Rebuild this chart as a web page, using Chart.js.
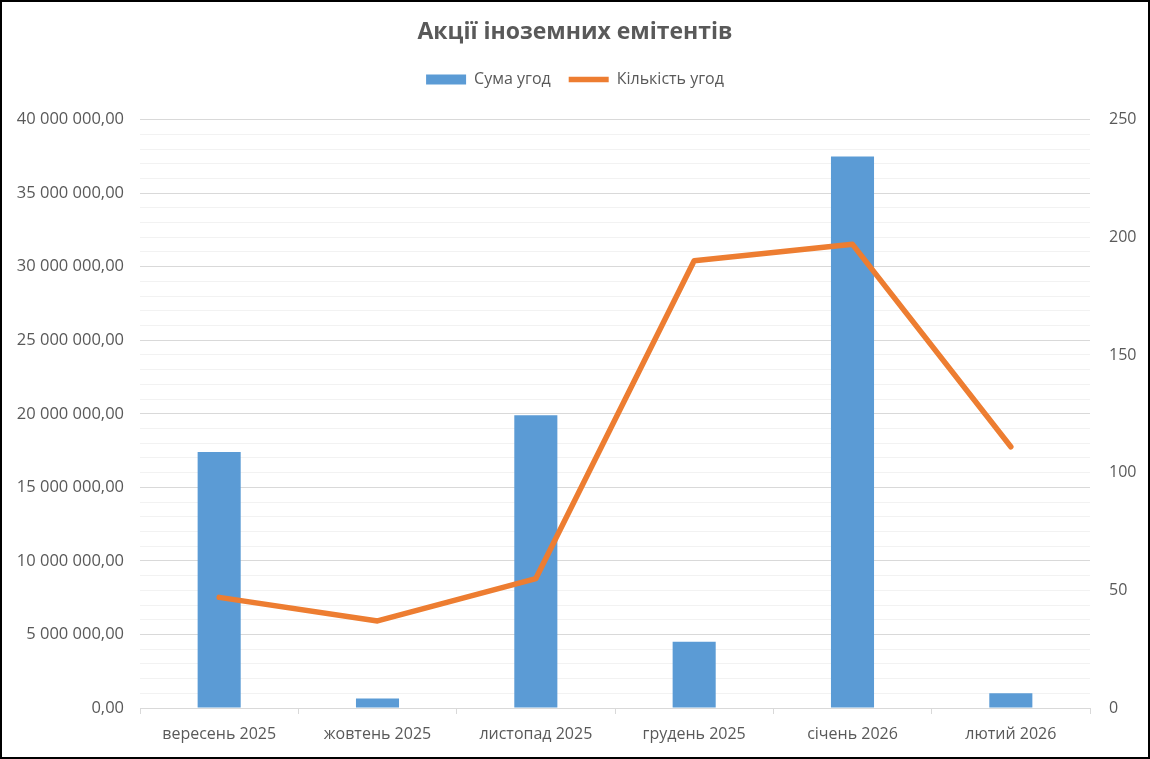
<!DOCTYPE html>
<html>
<head>
<meta charset="utf-8">
<script src="https://cdn.jsdelivr.net/npm/chart.js@4"></script>
<style>
  html, body { margin: 0; padding: 0; background: #fff; }
  #wrap { width: 1150px; height: 759px; box-sizing: border-box; border: 2px solid #000; }
  #chart { display: block; }
</style>
</head>
<body>
<div id="wrap"><canvas id="chart" width="1146" height="755"></canvas></div>
<script>
const months = ["вересень 2025", "жовтень 2025", "листопад 2025", "грудень 2025", "січень 2026", "лютий 2026"];
const dealSum = [17400000, 650000, 19900000, 4500000, 37500000, 1000000];
const dealCount = [47, 37, 55, 190, 197, 111];
const sumTicks = [0, 5000000, 10000000, 15000000, 20000000, 25000000, 30000000, 35000000, 40000000];
const countTicks = [0, 50, 100, 150, 200, 250];

const grey = "#595959";
const font = "'Open Sans', 'DejaVu Sans', sans-serif";

function money(v) {
  return String(v).replace(/\B(?=(\d{3})+(?!\d))/g, " ") + ",00";
}

// extra gap under the legend
const legendGap = {
  id: "legendGap",
  afterInit(chart) {
    const fit = chart.legend.fit;
    chart.legend.fit = function () {
      fit.call(this);
      this.height += 22;
    };
  },
};

const ctx = document.getElementById("chart");

new Chart(ctx, {
  type: "bar",
  data: {
    labels: months,
    datasets: [
      {
        type: "bar",
        label: "Сума угод",
        data: dealSum,
        backgroundColor: "#5B9BD5",
        borderWidth: 0,
        barPercentage: 0.272,
        categoryPercentage: 1,
        yAxisID: "y",
        pointStyle: "rect",
        order: 2,
      },
      {
        type: "line",
        label: "Кількість угод",
        data: dealCount,
        borderColor: "#ED7D31",
        backgroundColor: "#ED7D31",
        borderWidth: 5.5,
        borderCapStyle: "round",
        borderJoinStyle: "round",
        pointRadius: 0,
        pointStyle: "line",
        tension: 0,
        yAxisID: "y1",
        order: 1,
      },
    ],
  },
  options: {
    responsive: false,
    animation: false,
    layout: { padding: 0 },
    plugins: {
      title: {
        display: true,
        text: "Акції іноземних емітентів",
        color: grey,
        font: { family: font, size: 23, weight: "bold" },
        padding: { top: 17, bottom: 7 },
      },
      legend: {
        labels: {
          usePointStyle: true,
          pointStyleWidth: 40,
          boxHeight: 10,
          color: grey,
          font: { family: font, size: 16 },
          padding: 18,
          sort: (a, b) => a.datasetIndex - b.datasetIndex,
        },
      },
      tooltip: { enabled: false },
    },
    scales: {
      x: {
        offset: true,
        grid: { display: true, drawOnChartArea: false, offset: true, color: "#d9d9d9", tickLength: 6 },
        border: { color: "#d9d9d9" },
        ticks: { color: grey, font: { family: font, size: 16 }, padding: 11, maxRotation: 0 },
        afterFit: (s) => { s.height = 49; },
      },
      y: {
        position: "left",
        min: 0,
        max: 40000000,
        grid: {
          drawTicks: false,
          color: (c) => (c.tick && sumTicks.includes(c.tick.value) ? "#d9d9d9" : "#f2f2f2"),
        },
        border: { display: false },
        ticks: {
          stepSize: 1000000,
          autoSkip: false,
          color: grey,
          font: { family: font, size: 16.5 },
          padding: 16,
          callback: (v) => (sumTicks.includes(v) ? money(v) : ""),
        },
        afterFit: (s) => { s.width = 138; },
      },
      y1: {
        position: "right",
        min: 0,
        max: 250,
        grid: { display: false },
        border: { display: false },
        ticks: {
          stepSize: 50,
          color: grey,
          font: { family: font, size: 16 },
          padding: 11,
          callback: (v) => (countTicks.includes(v) ? v : ""),
        },
        afterFit: (s) => { s.width = 58; },
      },
    },
  },
  plugins: [legendGap],
});
</script>
</body>
</html>
